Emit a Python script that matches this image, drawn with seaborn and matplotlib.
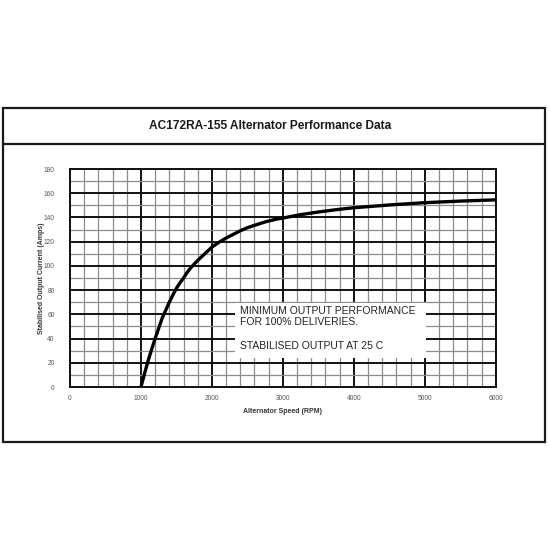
import matplotlib
matplotlib.use("Agg")
import matplotlib.pyplot as plt
import matplotlib.patches as mpatches
from matplotlib.ticker import MultipleLocator
import seaborn as sns
import pandas as pd

# ---- data ----
rpm = [1000, 1050, 1100, 1150, 1200, 1250, 1300, 1350, 1400, 1450, 1500,
       1550, 1600, 1650, 1700, 1750, 1800, 1900, 2000, 2100, 2200, 2300,
       2400, 2500, 2600, 2750, 2900, 3000, 3250, 3500, 3750, 4000, 4500,
       5000, 5500, 6000]
amps = [0, 11, 21.5, 31, 40, 48.5, 57, 63.5, 70, 76, 81.5,
        86, 90, 94.5, 98.3, 101.5, 104.5, 110, 115.5, 119.5, 123, 126,
        129, 131.5, 133.5, 136.3, 138.5, 139.5, 142.3, 144.5, 146.4, 148, 150.3,
        152.2, 153.5, 154.5]
x_ticks = [0, 1000, 2000, 3000, 4000, 5000, 6000]
y_ticks = [0, 20, 40, 60, 80, 100, 120, 140, 160, 180]
title = "AC172RA-155 Alternator Performance Data"
x_label = "Alternator Speed (RPM)"
y_label = "Stabilised Output Current (Amps)"
note = "MINIMUM OUTPUT PERFORMANCE\nFOR 100% DELIVERIES.\n\nSTABILISED OUTPUT AT 25 C"

sns.set_style("white")
plt.rcParams['font.family'] = ['Liberation Sans', 'DejaVu Sans']

fig = plt.figure(figsize=(5.5, 5.5), dpi=100)
fig.patch.set_facecolor("white")

W, H = 550.0, 550.0
def fx(px): return px / W
def fy(py): return 1 - py / H

# outer frame and title separator
frame = mpatches.Rectangle((fx(3), fy(442)), fx(545) - fx(3), fy(108) - fy(442),
                           transform=fig.transFigure, fill=False,
                           edgecolor="#1a1a1a", linewidth=1.6)
fig.patches.append(frame)
fig.add_artist(plt.Line2D([fx(3), fx(545)], [fy(144), fy(144)],
                          transform=fig.transFigure, color="#1a1a1a", linewidth=1.6))
fig.text(fx(270), fy(126), title, ha="center", va="center",
         fontsize=8.6, fontweight="bold", color="#1a1a1a")

ax = fig.add_axes([fx(70), fy(387), fx(495.7) - fx(70), fy(169) - fy(387)])
df = pd.DataFrame({"rpm": rpm, "amps": amps})
sns.lineplot(data=df, x="rpm", y="amps", ax=ax, color="black", linewidth=2.4, zorder=5)

ax.set_xlim(0, 6000)
ax.set_ylim(0, 180)
ax.xaxis.set_major_locator(MultipleLocator(1000))
ax.xaxis.set_minor_locator(MultipleLocator(200))
ax.yaxis.set_major_locator(MultipleLocator(20))
ax.yaxis.set_minor_locator(MultipleLocator(10))
ax.set_xticks(x_ticks)
ax.set_yticks(y_ticks)
ax.set_xticklabels([str(t) for t in x_ticks])
ax.set_yticklabels([str(t) for t in y_ticks])
ax.set_axisbelow(True)
ax.grid(which="minor", color="#8c8c8c", linewidth=0.9)
ax.grid(which="major", color="#111111", linewidth=1.4)
ax.tick_params(which="both", length=0, labelsize=4.8, labelcolor="#555555")
ax.tick_params(axis="x", pad=6)
ax.tick_params(axis="y", pad=11)
for s in ax.spines.values():
    s.set_color("#111111")
    s.set_linewidth(1.4)

ax.set_xlabel(x_label, fontsize=5, fontweight="bold", color="#333333", labelpad=4)
ax.set_ylabel(y_label, fontsize=5, fontweight="bold", color="#333333", labelpad=-1)

# white note box covering the grid
box = mpatches.Rectangle((2330, 24), 5024 - 2330, 69.4 - 24, facecolor="white",
                         edgecolor="none", zorder=3)
ax.add_patch(box)
ax.text(2400, 67, note, ha="left", va="top", fontsize=7.5, color="#222222",
        linespacing=1.2, zorder=4)

fig.savefig("out.png", dpi=100, facecolor="white")
